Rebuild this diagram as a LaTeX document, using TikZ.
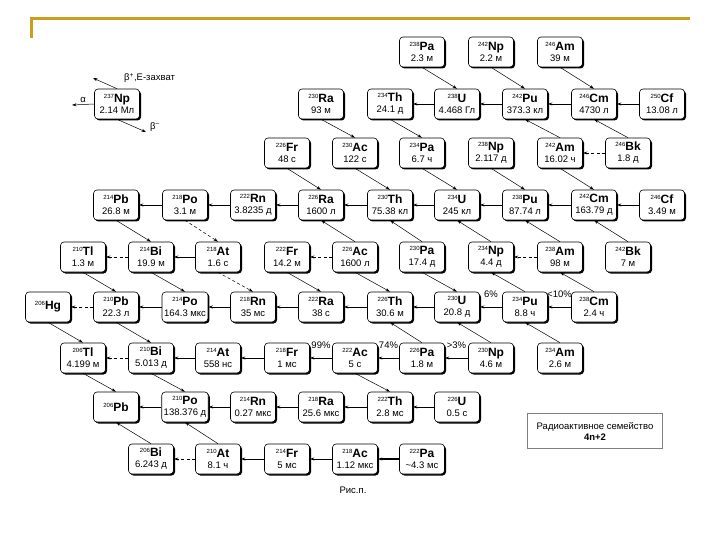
\documentclass[tikz,border=0pt]{standalone}
\usepackage{fontspec}
\setmainfont{Liberation Sans}
\usetikzlibrary{arrows.meta,shadows}

\definecolor{rulegold}{RGB}{201,160,28}
% mass number + element symbol
\newcommand{\nucl}[2]{{\fontsize{6}{7}\selectfont\raisebox{4pt}{#1}}{\fontsize{12}{13}\selectfont\bfseries #2}}

\begin{document}
\begin{tikzpicture}[
    x=1pt, y=-1pt,
    >={Stealth[length=4.5pt,width=3pt]},
    nuc/.style={rectangle, rounded corners=3.5pt, draw=black, line width=0.6pt, fill=white,
        minimum width=45pt, minimum height=30pt, inner xsep=2pt, inner ysep=1pt, align=center,
        font=\fontsize{9.5}{10}\selectfont,
        drop shadow={opacity=1, fill=black, shadow xshift=1.5pt, shadow yshift=-1.5pt}},
    adecay/.style={->, line width=0.8pt},
    bdecay/.style={->, line width=0.5pt},
    minor/.style={dash pattern=on 3pt off 2.5pt},
    pct/.style={font=\fontsize{9.5}{10}\selectfont, inner sep=1pt},
    goldrule/.style={line width=3pt, rulegold},
    note/.style={font=\fontsize{9.5}{11}\selectfont, inner sep=1pt}
]
    \useasboundingbox (0,0) rectangle (720,540);
    \draw[goldrule] (31,38) -- (31,19) -- (690,19);

    % nuclides
    \foreach \nm/\x/\y/\A/\el/\hl in {
        pa238/422/52/238/Pa/2.3 м, np242/491/52/242/Np/2.2 м, am246/560/52/246/Am/39 м,
        ra230/321/104/230/Ra/93 м, th234/390/104/234/Th/24.1 д, u238/457/104/238/U/4.468 Гл,
        pu242/525/104/242/Pu/373.3 кл, cm246/594/104/246/Cm/4730 л, cf250/662/104/250/Cf/13.08 л,
        fr226/287/153/226/Fr/48 с, ac230/355/153/230/Ac/122 с, pa234/422/153/234/Pa/6.7 ч,
        np238/491/153/238/Np/2.117 д, am242/560/153/242/Am/16.02 ч, bk246/628/153/246/Bk/1.8 д,
        pb214/116/205/214/Pb/26.8 м, po218/185/205/218/Po/3.1 м, rn222/253/205/222/Rn/3.8235 д,
        ra226/321/205/226/Ra/1600 л, th230/390/205/230/Th/75.38 кл, u234/457/205/234/U/245 кл,
        pu238/525/205/238/Pu/87.74 л, cm242/594/205/242/Cm/163.79 д, cf246/662/205/246/Cf/3.49 м,
        tl210/83/257/210/Tl/1.3 м, bi214/151/257/214/Bi/19.9 м, at218/218/257/218/At/1.6 с,
        fr222/287/257/222/Fr/14.2 м, ac226/355/257/226/Ac/1600 л, pa230/422/257/230/Pa/17.4 д,
        np234/491/257/234/Np/4.4 д, am238/560/257/238/Am/98 м, bk242/628/257/242/Bk/7 м,
        pb210/116/307/210/Pb/22.3 л, po214/185/307/214/Po/164.3 мкс, rn218/253/307/218/Rn/35 мс,
        ra222/321/307/222/Ra/38 с, th226/390/307/226/Th/30.6 м, u230/457/307/230/U/20.8 д,
        pu234/525/307/234/Pu/8.8 ч, cm238/594/307/238/Cm/2.4 ч,
        tl206/83/358/206/Tl/4.199 м, bi210/151/358/210/Bi/5.013 д, at214/218/358/214/At/558 нс,
        fr218/287/358/218/Fr/1 мс, ac222/355/358/222/Ac/5 с, pa226/422/358/226/Pa/1.8 м,
        np230/491/358/230/Np/4.6 м, am234/560/358/234/Am/2.6 м,
        po210/185/407/210/Po/138.376 д, rn214/253/407/214/Rn/0.27 мкс, ra218/321/407/218/Ra/25.6 мкс,
        th222/390/407/222/Th/2.8 мс, u226/457/407/226/U/0.5 с,
        bi206/151/459/206/Bi/6.243 д, at210/218/459/210/At/8.1 ч, fr214/287/459/214/Fr/5 мс,
        ac218/355/459/218/Ac/1.12 мкс, pa222/422/459/222/Pa/\textasciitilde4.3 мс}
        \node[nuc] (\nm) at (\x,\y) {\nucl{\A}{\el}\\[1pt]\hl};
    \node[nuc] (hg206) at (48,307) {\nucl{206}{Hg}};
    \node[nuc] (pb206) at (116,407) {\nucl{206}{Pb}};

    % alpha decays
    \foreach \a/\b in {u238/th234, pu242/u238, cm246/pu242, cf250/cm246,
        po218/pb214, rn222/po218, ra226/rn222, th230/ra226, u234/th230, pu238/u234, cm242/pu238, cf246/cm242,
        at218/bi214, po214/pb210, rn218/po214, ra222/rn218, th226/ra222, u230/th226,
        at214/bi210, fr218/at214, po210/pb206, rn214/po210, ra218/rn214, th222/ra218, u226/th222,
        fr214/at210, ac218/fr214}
        \draw[adecay] (\a) -- (\b);
    \foreach \a/\b in {bk246/am242, bi214/tl210, ac226/fr222, am238/np234, pb210/hg206, bi210/tl206, at210/bi206}
        \draw[adecay, minor] (\a) -- (\b);
    \draw[adecay, line width=1.6pt] (pa222) -- (ac218);
    \draw[adecay] (pu234) -- node[pct, above=8pt] {6\%} (u230);
    \draw[adecay] (cm238) -- node[pct, above=8pt] {<10\%} (pu234);
    \draw[adecay] (ac222) -- node[pct, above=8pt] {99\%} (fr218);
    \draw[adecay] (pa226) -- node[pct, above=8pt] {74\%} (ac222);
    \draw[adecay] (np230) -- node[pct, above=8pt] {>3\%} (pa226);

    % beta minus
    \foreach \a/\b in {pa238/u238, np242/pu242, am246/cm246, ra230/ac230, th234/pa234,
        fr226/ra226, ac230/th230, pa234/u234, np238/pu238, am242/cm242,
        pb214/bi214, tl210/pb210, bi214/po214, fr222/ra222, ac226/th226, pa230/u230,
        hg206/tl206, pb210/bi210, tl206/pb206, bi210/po210, ac222/th222}
        \draw[bdecay] (\a.south) -- (\b.north);
    \foreach \a/\b in {po218/at218, at218/rn218}
        \draw[bdecay, minor] (\a.south) -- (\b.north);

    % beta plus / electron capture
    \foreach \a/\b in {am242/pu242, bk246/cm246, ac226/ra226, pa230/th230, np234/u234, am238/pu238,
        bk242/cm242, pu234/np234, cm238/am238, pa226/th226, np230/u230, am234/pu234,
        bi206/pb206, at210/po210}
        \draw[bdecay] (\a.north) -- (\b.south);

    % key
    \node[nuc] (np237) at (117,104) {\nucl{237}{Np}\\[1pt]2.14 Мл};
    \coordinate (aend) at (72,105);
    \coordinate (ecend) at (93,78);
    \coordinate (bmend) at (146,132);
    \draw[bdecay] (np237.west) -- node[note, above=1pt] (alab) {α} (aend);
    \draw[bdecay] (np237.north) -- (ecend);
    \draw[bdecay] (np237.south) -- (bmend);
    \node[note, anchor=west] (eclab) at (123,78) {β\textsuperscript{+},E-захват};
    \node[note, anchor=west] (bmlab) at (149,127) {β\textsuperscript{–}};

    \node[draw=gray, line width=0.6pt, minimum width=135pt, minimum height=35pt, align=center,
        font=\fontsize{9.5}{11}\selectfont] (family) at (595,431) {Радиоактивное семейство\\\textbf{4n+2}};
    \node[note] (caption) at (353,490) {Рис.п.};
\end{tikzpicture}
\end{document}
